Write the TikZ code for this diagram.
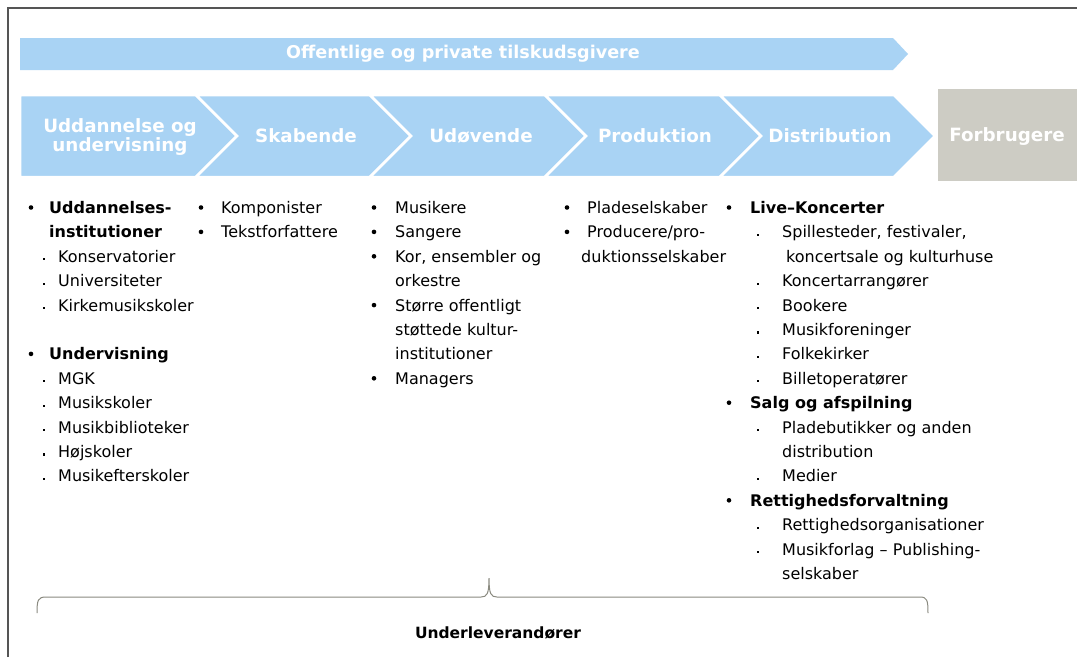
\documentclass[tikz,border=0pt]{standalone}
\usepackage{fontspec}
\setmainfont{DejaVu Sans}
\definecolor{chev}{HTML}{A9D3F4}
\definecolor{consumer}{HTML}{CDCCC4}
\definecolor{framec}{HTML}{555555}
\definecolor{bracec}{HTML}{8A8A80}
\begin{document}
\begin{tikzpicture}[x=1pt,y=-1pt,
  chevlabel/.style={text=white,font=\fontsize{18.3}{20}\selectfont\bfseries,align=center,inner sep=0pt},
  item/.style={anchor=base west,inner sep=0pt,font=\fontsize{16}{19}\selectfont},
  bitem/.style={anchor=base west,inner sep=0pt,font=\fontsize{16}{19}\selectfont\bfseries},
  bul/.style={circle,fill=black,inner sep=0pt,minimum size=4.6pt},
  subdot/.style={rectangle,fill=black,inner sep=0pt,minimum size=2.2pt},
  chevshape/.style={fill=chev,draw=white,line width=2.5pt,line join=miter}]
\useasboundingbox (0,0) rectangle (1077,657);
\fill[white] (0,0) rectangle (1077,657);
\draw[framec,line width=2pt] (8,657) -- (8,8) -- (1077,8);

% top banner
\fill[chev] (20,38) -- (893,38) -- (908,54) -- (893,70) -- (20,70) -- cycle;
\node[text=white,font=\fontsize{17.6}{20}\selectfont\bfseries,inner sep=0pt] (banner) at (463,54) {Offentlige og private tilskudsgivere};

% chevrons
\path[chevshape] (20,95) -- (196,95) -- (237,136) -- (196,177) -- (20,177) -- cycle;
\foreach \L/\R in {196/370,370/545,545/720,720/894}{
  \path[chevshape] (\L,95) -- (\R,95) -- (\R+41,136) -- (\R,177) -- (\L,177) -- (\L+41,136) -- cycle;
}
\node[chevlabel] (s1) at (120,137) {Uddannelse og\\[-1pt]undervisning};
\node[chevlabel] (s2) at (306,136) {Skabende};
\node[chevlabel] (s3) at (481,136) {Udøvende};
\node[chevlabel] (s4) at (655,136) {Produktion};
\node[chevlabel] (s5) at (830,136) {Distribution};
\fill[consumer] (938,89) rectangle (1077,181);
\node[chevlabel] (s6) at (1007,137) {Forbrugere};

% column 1
\foreach \k/\t in {0/Uddannelses-,1/institutioner,6/Undervisning}
  \node[bitem] (c1b\k) at (49,{213.5+24.4*\k}) {\t};
\foreach \k in {0,6}
  \node[bul] (c1p\k) at (31,{207.5+24.4*\k}) {};
\foreach \k/\t in {2/Konservatorier,3/Universiteter,4/Kirkemusikskoler,7/MGK,8/Musikskoler,9/Musikbiblioteker,10/Højskoler,11/Musikefterskoler}{
  \node[item] (c1s\k) at (58,{213.5+24.4*\k}) {\t};
  \node[subdot] (c1d\k) at (44,{210.5+24.4*\k}) {};
}
% column 2
\foreach \k/\t in {0/Komponister,1/Tekstforfattere}{
  \node[item] (c2s\k) at (221,{213.5+24.4*\k}) {\t};
  \node[bul] (c2p\k) at (201,{207.5+24.4*\k}) {};
}
% column 3
\foreach \k/\t in {0/Musikere,1/Sangere,2/{Kor, ensembler og},3/orkestre,4/Større offentligt,5/støttede kultur-,6/institutioner,7/Managers}
  \node[item] (c3s\k) at (395,{213.5+24.4*\k}) {\t};
\foreach \k in {0,1,2,4,7}
  \node[bul] (c3p\k) at (374,{207.5+24.4*\k}) {};
% column 4
\node[item] (c4s0) at (587,213.5) {Pladeselskaber};
\node[item] (c4s1) at (587,237.9) {Producere/pro-};
\node[item] (c4s2) at (581,262.3) {duktionsselskaber};
\node[bul] (c4p0) at (567,207.5) {};
\node[bul] (c4p1) at (567,231.9) {};
% column 5
\foreach \k/\t in {0/Live–Koncerter,8/Salg og afspilning,12/Rettighedsforvaltning}{
  \node[bitem] (c5b\k) at (750,{213.5+24.4*\k}) {\t};
  \node[bul] (c5p\k) at (729,{207.5+24.4*\k}) {};
}
\foreach \k/\t in {1/{Spillesteder, festivaler,},3/Koncertarrangører,4/Bookere,5/Musikforeninger,6/Folkekirker,7/Billetoperatører,9/Pladebutikker og anden,11/Medier,13/Rettighedsorganisationer,14/Musikforlag – Publishing-}{
  \node[item] (c5s\k) at (782,{213.5+24.4*\k}) {\t};
  \node[subdot] (c5d\k) at (758,{210.5+24.4*\k}) {};
}
\node[item] (c5s2) at (786,262.3) {koncertsale og kulturhuse};
\node[item] (c5s10) at (782,457.5) {distribution};
\node[item] (c5s15) at (782,579.5) {selskaber};

% brace
\coordinate (bl) at (37,613);
\coordinate (bm) at (489,578);
\coordinate (br) at (928,613);
\draw[bracec,line width=1pt] (bl) .. controls (37,600) and (38,597) .. (46,597) -- (481,597) .. controls (487,597) and (489,594) .. (bm)
  .. controls (489,594) and (491,597) .. (497,597) -- (920,597) .. controls (927,597) and (928,600) .. (br);
\node[font=\fontsize{15.5}{18}\selectfont\bfseries,inner sep=0pt] (under) at (498,633) {Underleverandører};
\end{tikzpicture}
\end{document}
